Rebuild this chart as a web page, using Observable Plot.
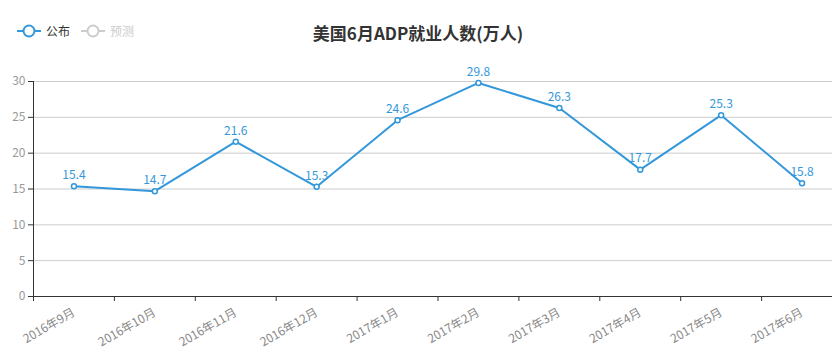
<!DOCTYPE html>
<html>
<head>
<meta charset="utf-8">
<script src="https://cdn.jsdelivr.net/npm/d3@7"></script>
<script src="https://cdn.jsdelivr.net/npm/@observablehq/plot@0.6"></script>
<style>
  html, body { margin: 0; padding: 0; background: #fff; overflow: hidden; }
  #wrap { position: relative; width: 832px; height: 357px; font-family: "Noto Sans CJK SC", "Noto Sans", sans-serif; }
  #title { position: absolute; left: 0; width: 836px; top: 21px; text-align: center; font-size: 17px; font-weight: bold; color: #333; line-height: 24px; }
  #legend { position: absolute; left: 0; top: 0; }
  svg.plot { position: absolute; left: 0; top: 0; }
</style>
</head>
<body>
<div id="wrap">
  <div id="chart"></div>
  <svg id="legend" width="200" height="60">
    <g>
      <line x1="17" y1="31" x2="41" y2="31" stroke="#3398db" stroke-width="2"/>
      <circle cx="29" cy="31" r="5.5" fill="#fff" stroke="#3398db" stroke-width="2"/>
      <text x="46" y="35.5" font-size="12" fill="#333" font-family="Noto Sans CJK SC">公布</text>
    </g>
    <g>
      <line x1="81" y1="31" x2="105" y2="31" stroke="#ccc" stroke-width="2"/>
      <circle cx="93" cy="31" r="5.5" fill="#fff" stroke="#ccc" stroke-width="2"/>
      <text x="110" y="35.5" font-size="12" fill="#ccc" font-family="Noto Sans CJK SC">预测</text>
    </g>
  </svg>
  <div id="title">美国6月ADP就业人数(万人)</div>
</div>
<script>
const months = ["2016年9月","2016年10月","2016年11月","2016年12月","2017年1月","2017年2月","2017年3月","2017年4月","2017年5月","2017年6月"];
const values = [15.4, 14.7, 21.6, 15.3, 24.6, 29.8, 26.3, 17.7, 25.3, 15.8];
const yTicks = [0, 5, 10, 15, 20, 25, 30];

const data = months.map((m, i) => ({i: i + 0.5, m, v: values[i]}));
const boundaries = months.map((m, i) => i);
const centers = months.map((m, i) => i + 0.5);
const blue = "#3398db";

const chart = Plot.plot({
  width: 832,
  height: 357,
  marginTop: 81,
  marginBottom: 61,
  marginLeft: 33,
  marginRight: -10,
  style: {fontFamily: "'Noto Sans CJK SC', 'Noto Sans', sans-serif", fontSize: "12px", background: "transparent", overflow: "visible"},
  x: {domain: [0, months.length], axis: null},
  y: {domain: [0, 30], axis: null},
  marks: [
    Plot.gridY(yTicks.filter(d => d > 0), {stroke: "#ccc", strokeOpacity: 1, strokeWidth: 1}),
    Plot.axisY(yTicks, {tickSize: 5, tickFormat: () => "", stroke: "#333", strokeOpacity: 1, label: null}),
    Plot.axisY(yTicks, {tickSize: 0, tickPadding: 8, fill: "#999", fontSize: 12, label: null}),
    Plot.ruleX([0], {stroke: "#333", strokeWidth: 1}),
    Plot.ruleY([0], {stroke: "#333", strokeWidth: 1}),
    Plot.axisX(boundaries, {tickSize: 5, tickFormat: () => "", stroke: "#333", strokeOpacity: 1, label: null}),
    Plot.axisX(centers, {tickSize: 0, tickPadding: 15, tickRotate: -30, tickFormat: d => months[Math.floor(d)], fill: "#888", fontSize: 12, label: null}),
    Plot.line(data, {x: "i", y: "v", stroke: blue, strokeWidth: 2}),
    Plot.dot(data, {x: "i", y: "v", r: 2.5, fill: "#fff", stroke: blue, strokeWidth: 1.5}),
    Plot.text(data, {x: "i", y: "v", text: d => d.v.toFixed(1), dy: -11, fill: blue, fontSize: 12})
  ]
});
document.getElementById("chart").appendChild(chart);
</script>
</body>
</html>
